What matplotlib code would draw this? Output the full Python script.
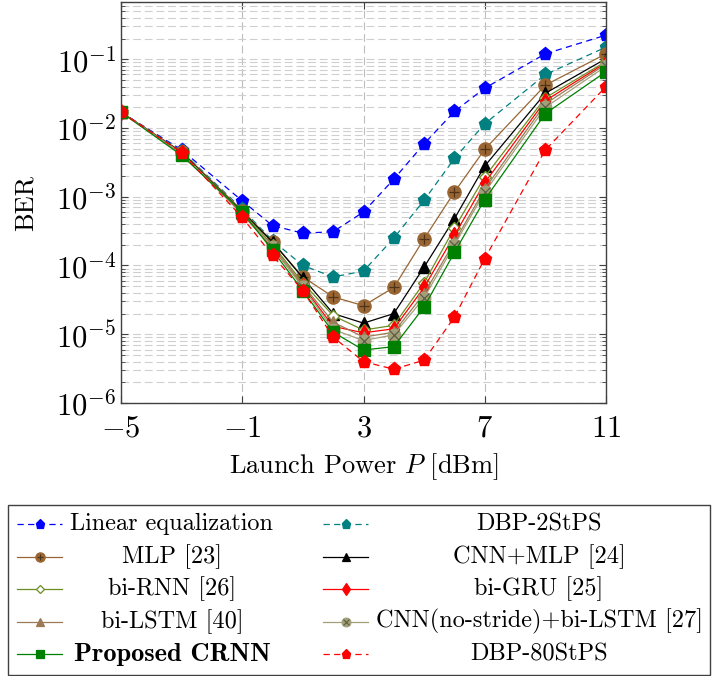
import math
import matplotlib
matplotlib.use('Agg')
from matplotlib import pyplot as plt
from matplotlib import ticker
from matplotlib.lines import Line2D
from matplotlib.patches import Rectangle

plt.rcParams['mathtext.fontset'] = 'cm'
plt.rcParams['font.family'] = ['cmr10', 'DejaVu Serif']
plt.rcParams['axes.formatter.use_mathtext'] = True

# launch power [dBm]
power = [-5, -3, -1, 0, 1, 2, 3, 4, 5, 6, 7, 9, 11]

ber_linear = [1.7e-2, 4.8e-3, 8.7e-4, 3.8e-4, 2.95e-4, 3.1e-4, 6.0e-4, 1.8e-3, 5.9e-3, 1.74e-2, 3.8e-2, 1.2e-1, 2.24e-1]
ber_dbp2 = [1.7e-2, 4.6e-3, 6.6e-4, 2.3e-4, 1.0e-4, 6.8e-5, 8.3e-5, 2.5e-4, 8.9e-4, 3.6e-3, 1.15e-2, 6.0e-2, 1.5e-1]
ber_mlp = [1.7e-2, 4.5e-3, 6.3e-4, 2.2e-4, 6.8e-5, 3.5e-5, 2.6e-5, 4.8e-5, 2.45e-4, 1.17e-3, 4.9e-3, 4.2e-2, 1.2e-1]
ber_cnn_mlp = [1.7e-2, 4.4e-3, 6.0e-4, 2.2e-4, 6.6e-5, 2.0e-5, 1.45e-5, 2.0e-5, 9.5e-5, 4.8e-4, 2.8e-3, 3.2e-2, 1.02e-1]
ber_birnn = [1.7e-2, 4.3e-3, 5.9e-4, 2.0e-4, 5.6e-5, 1.86e-5, 1.15e-5, 1.35e-5, 5.6e-5, 3.5e-4, 1.95e-3, 2.75e-2, 9.3e-2]
ber_bigru = [1.7e-2, 4.3e-3, 5.6e-4, 1.8e-4, 5.0e-5, 1.3e-5, 1.05e-5, 1.2e-5, 4.8e-5, 2.75e-4, 1.6e-3, 2.5e-2, 8.9e-2]
ber_bilstm = [1.7e-2, 4.3e-3, 5.75e-4, 1.9e-4, 5.2e-5, 1.5e-5, 9.1e-6, 1.07e-5, 3.9e-5, 2.2e-4, 1.3e-3, 2.25e-2, 8.5e-2]
ber_cnn_bilstm = [1.7e-2, 4.2e-3, 5.75e-4, 1.86e-4, 4.8e-5, 1.17e-5, 8.1e-6, 9.8e-6, 3.4e-5, 2.0e-4, 1.17e-3, 2.0e-2, 7.9e-2]
ber_crnn = [1.7e-2, 4.0e-3, 6.0e-4, 1.66e-4, 4.3e-5, 1.07e-5, 5.9e-6, 6.6e-6, 2.5e-5, 1.55e-4, 9.1e-4, 1.62e-2, 6.6e-2]
ber_dbp80 = [1.7e-2, 4.4e-3, 5.0e-4, 1.4e-4, 4.3e-5, 9.1e-6, 4.0e-6, 3.1e-6, 4.2e-6, 1.78e-5, 1.26e-4, 4.8e-3, 4.0e-2]

DASH = (0, (5, 3.5))

# label, data, color, linestyle, marker, size, facecolor, overlay marker
series = [
    ('Linear equalization', ber_linear, '#0000ff', DASH, 'p', 9.5, '#0000ff', None),
    ('DBP-2StPS', ber_dbp2, '#008080', DASH, 'p', 9.5, '#008080', None),
    ('MLP [23]', ber_mlp, '#996633', '-', 'o', 9.5, '#996633', '+'),
    ('CNN+MLP [24]', ber_cnn_mlp, '#000000', '-', '^', 8.5, '#000000', None),
    ('bi-RNN [26]', ber_birnn, '#6b8e23', '-', 'D', 6.5, '#ffffff', None),
    ('bi-GRU [25]', ber_bigru, '#ff0000', '-', 'd', 8.5, '#ff0000', None),
    ('bi-LSTM [40]', ber_bilstm, '#9c7a55', '-', '^', 8.5, '#9c7a55', None),
    ('CNN(no-stride)+bi-LSTM [27]', ber_cnn_bilstm, '#a3a079', '-', 'o', 9.0, '#a3a079', 'x'),
    ('Proposed CRNN', ber_crnn, '#008000', '-', 's', 9.0, '#008000', None),
    ('DBP-80StPS', ber_dbp80, '#ff0000', DASH, 'p', 9.5, '#ff0000', None),
]

fig = plt.figure(figsize=(7.12, 6.76), dpi=100)
ax = fig.add_axes([121 / 712, 1 - 403 / 676, 485 / 712, 401 / 676])

for label, ber, col, ls, mk, ms, fc, over in series:
    ax.plot(power, ber, color=col, ls=ls, lw=0.9, marker=mk, ms=ms,
            mfc=fc, mec=col, mew=1.0)
    if over is not None:
        ax.plot(power, ber, ls='none', marker=over, ms=ms * 0.75,
                mec='#4d3319' if over == '+' else '#5e5c45', mew=0.9)

ax.set_yscale('log')
ax.set_xlim(-5, 11)
ax.set_ylim(1e-6, 0.68)
ax.set_xticks([-5, -1, 3, 7, 11])
ax.xaxis.set_major_formatter(ticker.FuncFormatter(lambda v, p: r'$%d$' % v))
ax.xaxis.set_minor_locator(ticker.NullLocator())
ax.yaxis.set_major_locator(ticker.LogLocator(base=10, numticks=20))
ax.yaxis.set_minor_locator(ticker.LogLocator(base=10, subs=range(2, 10), numticks=20))
ax.yaxis.set_major_formatter(ticker.FuncFormatter(lambda v, p: r'$10^{%d}$' % round(math.log10(v))))
ax.yaxis.set_minor_formatter(ticker.NullFormatter())

ax.grid(which='major', axis='x', ls=(0, (7, 3.5)), color='#bdbdbd', lw=0.8)
ax.grid(which='both', axis='y', ls=(0, (7, 3.5)), color='#cfcfcf', lw=0.8)
ax.set_axisbelow(True)

ax.tick_params(which='both', direction='in', top=True, right=True, labelsize=22, color='#404040')
ax.tick_params(which='major', length=5, width=0.8)
ax.tick_params(which='minor', length=3, width=0.6)
ax.tick_params(axis='x', pad=9)
for s in ax.spines.values():
    s.set_color('#404040')
    s.set_linewidth(1.0)

ax.set_xlabel('Launch Power $P$ [dBm]', fontsize=19, labelpad=6)
ax.set_ylabel('BER', fontsize=19, labelpad=13)

# legend box drawn by hand so text is centred per column like pgfplots
fig.patches.append(Rectangle((8 / 712, 1 - 675 / 676), 702 / 712, 170 / 676,
                             transform=fig.transFigure, fill=False,
                             edgecolor='#404040', lw=1.0))
rows = [524, 556.5, 589, 621.5, 654]
cols = [(17, 62, 172), (323, 368, 539)]
order = [0, 2, 4, 6, 8, 1, 3, 5, 7, 9]
for k, idx in enumerate(order):
    label, ber, col, ls, mk, ms, fc, over = series[idx]
    c = cols[k // 5]
    yf = 1 - rows[k % 5] / 676
    x0, x1, xc = c[0] / 712, c[1] / 712, c[2] / 712
    fig.lines.append(Line2D([x0, x1], [yf, yf], transform=fig.transFigure,
                            color=col, ls=ls, lw=0.9))
    fig.lines.append(Line2D([(x0 + x1) / 2], [yf], transform=fig.transFigure,
                            ls='none', marker=mk, ms=ms * 0.7, mfc=fc, mec=col, mew=0.9))
    if over is not None:
        fig.lines.append(Line2D([(x0 + x1) / 2], [yf], transform=fig.transFigure,
                                ls='none', marker=over, ms=ms * 0.5,
                                mec='#4d3319' if over == '+' else '#5e5c45', mew=0.8))
    if label.startswith('Proposed'):
        fig.text(xc, yf, label, ha='center', va='center', fontsize=19, family='cmb10')
    else:
        fig.text(xc, yf, label, ha='center', va='center', fontsize=17.5, family='cmr10')

fig.savefig('out.png', dpi=100)
